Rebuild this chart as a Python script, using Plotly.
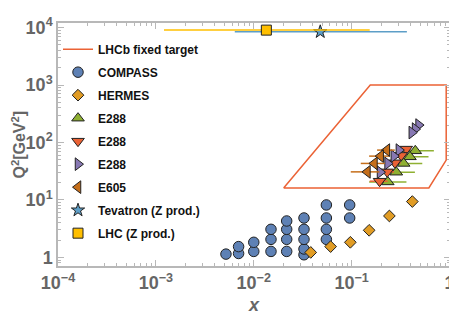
import plotly.graph_objects as go

# ---- data ----
lhcb_x = [0.0202, 0.155, 0.925, 0.925, 0.615, 0.0202]
lhcb_y = [16.2, 1000, 1000, 49.3, 16.2, 16.2]

compass_x = [0.0052, 0.0070, 0.0070, 0.010, 0.010,
             0.015, 0.015, 0.015,
             0.0217, 0.0217, 0.0217, 0.0217,
             0.0326, 0.0326, 0.0326, 0.0326, 0.0326,
             0.0552, 0.0552, 0.0552, 0.0552,
             0.0955, 0.0955]
compass_y = [1.14, 1.17, 1.54, 1.27, 1.83,
             1.27, 2.06, 3.08,
             1.27, 2.06, 3.08, 4.30,
             1.11, 1.40, 2.06, 3.08, 4.85,
             2.06, 3.08, 4.85, 8.18,
             4.85, 8.18]

hermes_x = [0.0382, 0.061, 0.097, 0.151, 0.243, 0.417]
hermes_y = [1.22, 1.54, 1.83, 2.96, 5.26, 9.37]

e288a_x = [0.447, 0.394, 0.340, 0.286, 0.234]
e288a_y = [71.6, 56.3, 43.2, 30.4, 20.6]
e288a_ep = [0.245, 0.216, 0.187, 0.157, 0.129]
e288a_em = [0.158, 0.140, 0.121, 0.101, 0.083]

e288b_x = [0.361, 0.321, 0.277, 0.231, 0.193]
e288b_y = [76.7, 59.6, 44.3, 30.8, 21.2]
e288b_err = [0.040, 0.040, 0.040, 0.040, 0.040]

e288c_x = [0.304, 0.270, 0.233, 0.195, 0.483, 0.445, 0.412]
e288c_y = [73.7, 57.9, 43.2, 30.4, 201, 171, 149]

e605_x = [0.229, 0.198, 0.171, 0.145]
e605_y = [73.7, 57.9, 43.2, 30.8]
e605_err = [0.047, 0.047, 0.047, 0.047]

tev_x = [0.0478]
tev_y = [8450]
tev_ep = [0.319]
tev_em = [0.0414]

lhc_x = [0.01345]
lhc_y = [9040]
lhc_ep = [0.1396]
lhc_em = [0.01224]

x_tickvals = [1e-4, 1e-3, 1e-2, 1e-1, 1]
x_ticktext = ["10<sup>−4</sup>", "10<sup>−3</sup>", "10<sup>−2</sup>", "10<sup>−1</sup>", "1"]
y_tickvals = [1, 10, 100, 1000, 10000]
y_ticktext = ["1", "10<sup>1</sup>", "10<sup>2</sup>", "10<sup>3</sup>", "10<sup>4</sup>"]

# ---- style ----
C_BLUE = "#5E81B5"
C_ORANGE = "#E19C24"
C_GREEN = "#8FB032"
C_RED = "#EB6235"
C_PURPLE = "#8778B3"
C_BROWN = "#C56E1A"
C_TEAL = "#5D9EC7"
C_YELLOW = "#FFBF00"
EDGE = dict(color="#222222", width=1)

fig = go.Figure()

fig.add_trace(go.Scatter(x=lhcb_x, y=lhcb_y, mode="lines", name="LHCb fixed target",
                         line=dict(color=C_RED, width=1.5)))
fig.add_trace(go.Scatter(x=compass_x, y=compass_y, mode="markers", name="COMPASS",
                         marker=dict(symbol="circle", size=10.5, color=C_BLUE, line=EDGE)))
fig.add_trace(go.Scatter(x=hermes_x, y=hermes_y, mode="markers", name="HERMES",
                         marker=dict(symbol="diamond", size=9, color=C_ORANGE, line=EDGE)))
fig.add_trace(go.Scatter(x=e288a_x, y=e288a_y, mode="markers", name="E288",
                         marker=dict(symbol="triangle-up", size=11, color=C_GREEN, line=EDGE),
                         error_x=dict(type="data", array=e288a_ep, arrayminus=e288a_em,
                                      color=C_GREEN, thickness=1.5, width=0)))
fig.add_trace(go.Scatter(x=e288b_x, y=e288b_y, mode="markers", name="E288",
                         marker=dict(symbol="triangle-down", size=11, color=C_RED, line=EDGE),
                         error_x=dict(type="data", array=e288b_err,
                                      color=C_RED, thickness=1.5, width=0)))
fig.add_trace(go.Scatter(x=e288c_x, y=e288c_y, mode="markers", name="E288",
                         marker=dict(symbol="triangle-right", size=11, color=C_PURPLE, line=EDGE)))
fig.add_trace(go.Scatter(x=e605_x, y=e605_y, mode="markers", name="E605",
                         marker=dict(symbol="triangle-left", size=11, color=C_BROWN, line=EDGE),
                         error_x=dict(type="data", array=e605_err,
                                      color=C_BROWN, thickness=1.5, width=0)))
fig.add_trace(go.Scatter(x=tev_x, y=tev_y, mode="markers", name="Tevatron (Z prod.)",
                         marker=dict(symbol="star", size=10, color=C_TEAL, line=EDGE),
                         error_x=dict(type="data", array=tev_ep, arrayminus=tev_em,
                                      color=C_TEAL, thickness=1.5, width=0)))
fig.add_trace(go.Scatter(x=lhc_x, y=lhc_y, mode="markers", name="LHC (Z prod.)",
                         marker=dict(symbol="square", size=10, color=C_YELLOW, line=EDGE),
                         error_x=dict(type="data", array=lhc_ep, arrayminus=lhc_em,
                                      color=C_YELLOW, thickness=1.5, width=0)))

FRAME = "#b8b8b8"
TICKFONT = dict(family="Liberation Sans", size=18, color="#666666", weight="bold")

fig.update_xaxes(type="log", range=[-4, 0.005], tickvals=x_tickvals, ticktext=x_ticktext,
                 showgrid=False, zeroline=False, showline=True, linecolor=FRAME, linewidth=1.5,
                 mirror="allticks", ticks="inside", ticklen=6, tickcolor=FRAME, tickwidth=1,
                 minor=dict(ticks="inside", ticklen=3, tickcolor=FRAME, dtick="D1", showgrid=False),
                 tickfont=TICKFONT, automargin=False)
fig.update_yaxes(type="log", range=[-0.15, 4.08], tickvals=y_tickvals, ticktext=y_ticktext,
                 showgrid=False, zeroline=False, showline=True, linecolor=FRAME, linewidth=1.5,
                 mirror="allticks", ticks="inside", ticklen=6, tickcolor=FRAME, tickwidth=1,
                 minor=dict(ticks="inside", ticklen=3, tickcolor=FRAME, dtick="D1", showgrid=False),
                 tickfont=TICKFONT, automargin=False)

# page body has an 8px default margin, so the figure is sized to fit the window
fig.update_layout(
    width=449, height=308,
    margin=dict(l=50, r=7, t=15, b=50, autoexpand=False),
    paper_bgcolor="white", plot_bgcolor="white",
    showlegend=True,
    legend=dict(x=0.0, y=0.952, xanchor="left", yanchor="top",
                bgcolor="rgba(0,0,0,0)", borderwidth=0,
                font=dict(family="Liberation Sans", size=12, color="#111111", weight="bold"),
                tracegroupgap=4, itemsizing="trace"),
    annotations=[
        dict(text="<i>x</i>", xref="paper", yref="paper", x=0.5, y=-0.16,
             xanchor="center", yanchor="middle", showarrow=False,
             font=dict(family="Liberation Sans", size=18, color="#666666", weight="bold")),
        dict(text="Q<sup>2</sup>[GeV<sup>2</sup>]", xref="paper", yref="paper",
             x=-0.102, y=0.5, xanchor="center", yanchor="middle", textangle=-90,
             showarrow=False,
             font=dict(family="Liberation Sans", size=16, color="#666666", weight="bold")),
    ],
)
for i, tr in enumerate(fig.data):
    tr.legendgroup = f"g{i}"

fig.write_html("out.html")
